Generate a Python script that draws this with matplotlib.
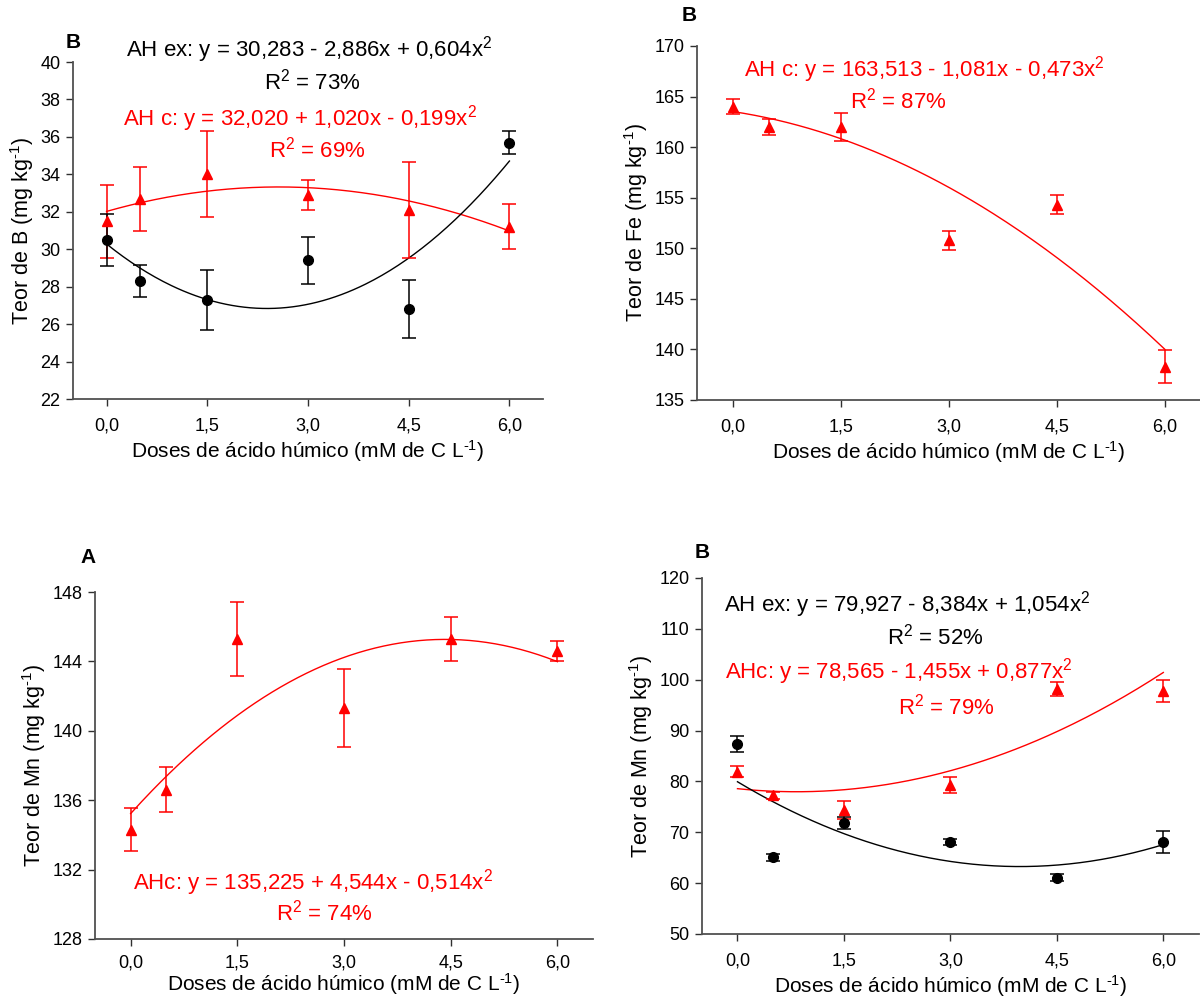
import numpy as np
import matplotlib
matplotlib.use('Agg')
import matplotlib.pyplot as plt

plt.rcParams['font.family'] = ['Liberation Sans', 'DejaVu Sans']
plt.rcParams['mathtext.fontset'] = 'custom'
plt.rcParams['mathtext.rm'] = 'Liberation Sans'
plt.rcParams['mathtext.it'] = 'Liberation Sans'
plt.rcParams['mathtext.default'] = 'regular'

# doses of humic acid (mM de C L-1)
doses = [0.0, 0.5, 1.5, 3.0, 4.5, 6.0]
xticks = [0.0, 1.5, 3.0, 4.5, 6.0]
xticklabels = ['0,0', '1,5', '3,0', '4,5', '6,0']

# Boro (B)
b_ex = [30.5, 28.3, 27.3, 29.4, 26.8, 35.7]
b_ex_err = [1.4, 0.85, 1.6, 1.25, 1.55, 0.6]
b_c = [31.5, 32.7, 34.0, 32.9, 32.1, 31.2]
b_c_err = [1.95, 1.7, 2.3, 0.8, 2.55, 1.2]
b_ex_coef = [30.283, -2.886, 0.604]
b_c_coef = [32.020, 1.020, -0.199]

# Ferro (Fe)
fe_c = [164.0, 162.0, 162.0, 150.8, 154.3, 138.3]
fe_c_err = [0.75, 0.8, 1.4, 0.95, 0.95, 1.65]
fe_c_coef = [163.513, -1.081, -0.473]

# Manganes (Mn) - A
mn_a_c = [134.3, 136.6, 145.3, 141.3, 145.3, 144.6]
mn_a_c_err = [1.25, 1.3, 2.15, 2.25, 1.25, 0.55]
mn_a_c_coef = [135.225, 4.544, -0.514]

# Manganes (Mn) - B
mn_b_ex = [87.3, 65.1, 71.8, 68.1, 61.1, 68.1]
mn_b_ex_err = [1.6, 0.7, 1.1, 0.6, 0.6, 2.1]
mn_b_c = [81.9, 77.3, 74.4, 79.3, 98.1, 97.8]
mn_b_c_err = [1.1, 0.7, 1.7, 1.5, 1.35, 2.15]
mn_b_ex_coef = [79.927, -8.384, 1.054]
mn_b_c_coef = [78.565, -1.455, 0.877]

XLABEL = 'Doses de ácido húmico (mM de C L$^{\u2010 1}$)'
RED = '#ff0000'


def fit_curve(coef):
    xs = np.linspace(0, 6, 200)
    return xs, coef[0] + coef[1] * xs + coef[2] * xs ** 2


def setup_axis(ax, ylim, yticks, ylabel, xlabelpad=3):
    ax.set_xlim(-0.5, 6.5)
    ax.set_ylim(*ylim)
    ax.set_xticks(xticks)
    ax.set_xticklabels(xticklabels)
    ax.set_yticks(yticks)
    for side in ['top', 'right']:
        ax.spines[side].set_visible(False)
    for side in ['left', 'bottom']:
        ax.spines[side].set_color('#505050')
        ax.spines[side].set_linewidth(1.3)
    ax.tick_params(direction='out', length=5, width=1, color='#303030',
                   labelsize=13, pad=4)
    ax.tick_params(axis='x', pad=8)
    ax.set_xlabel(XLABEL, fontsize=15, labelpad=xlabelpad)
    ax.set_ylabel(ylabel, fontsize=15.5, labelpad=3)


def draw_series(ax, y, err, coef, color, marker):
    xs, ys = fit_curve(coef)
    ax.plot(xs, ys, color=color, lw=1.0, zorder=2)
    ax.errorbar(doses, y, yerr=err, fmt=marker, color=color, ecolor=color,
                elinewidth=1.1, capsize=5, capthick=1.1, markersize=7,
                zorder=3, clip_on=False)


fig = plt.figure(figsize=(12, 9.99), dpi=100)

# top left: B
ax1 = fig.add_axes([0.0608, 0.6006, 0.3917, 0.3373])
setup_axis(ax1, (22, 40), range(22, 41, 2), 'Teor de B (mg kg$^{\u2010 1}$)')
draw_series(ax1, b_c, b_c_err, b_c_coef, RED, '^')
draw_series(ax1, b_ex, b_ex_err, b_ex_coef, 'black', 'o')
ax1.text(0.502, 1.036, 'AH ex: y = 30,283 - 2,886x + 0,604x$^2$', transform=ax1.transAxes,
         ha='center', va='center', fontsize=16)
ax1.text(0.51, 0.941, 'R$^2$ = 73%', transform=ax1.transAxes, ha='center', va='center', fontsize=16)
ax1.text(0.483, 0.831, 'AH c: y = 32,020 + 1,020x - 0,199x$^2$', transform=ax1.transAxes,
         ha='center', va='center', fontsize=16, color=RED)
ax1.text(0.52, 0.739, 'R$^2$ = 69%', transform=ax1.transAxes, ha='center', va='center',
         fontsize=16, color=RED)
ax1.text(-0.015, 1.059, 'B', transform=ax1.transAxes, ha='left', va='center',
         fontsize=15, fontweight='bold')

# top right: Fe
ax2 = fig.add_axes([0.5808, 0.5996, 0.42, 0.3544])
setup_axis(ax2, (135, 170), range(135, 171, 5), 'Teor de Fe (mg kg$^{\u2010 1}$)')
draw_series(ax2, fe_c, fe_c_err, fe_c_coef, RED, '^')
ax2.text(0.452, 0.932, 'AH c: y = 163,513 - 1,081x - 0,473x$^2$', transform=ax2.transAxes,
         ha='center', va='center', fontsize=16, color=RED)
ax2.text(0.40, 0.847, 'R$^2$ = 87%', transform=ax2.transAxes, ha='center', va='center',
         fontsize=16, color=RED)
ax2.text(-0.03, 1.085, 'B', transform=ax2.transAxes, ha='left', va='center',
         fontsize=15, fontweight='bold')

# bottom left: Mn (A)
ax3 = fig.add_axes([0.0792, 0.0601, 0.415, 0.3473])
setup_axis(ax3, (128, 148), range(128, 149, 4), 'Teor de Mn (mg kg$^{\u2010 1}$)', xlabelpad=0)
ax3.tick_params(axis='x', pad=6)
draw_series(ax3, mn_a_c, mn_a_c_err, mn_a_c_coef, RED, '^')
ax3.text(0.438, 0.164, 'AHc: y = 135,225 + 4,544x - 0,514x$^2$', transform=ax3.transAxes,
         ha='center', va='center', fontsize=16, color=RED)
ax3.text(0.46, 0.075, 'R$^2$ = 74%', transform=ax3.transAxes, ha='center', va='center',
         fontsize=16, color=RED)
ax3.text(-0.03, 1.10, 'A', transform=ax3.transAxes, ha='left', va='center',
         fontsize=15, fontweight='bold')

# bottom right: Mn (B)
ax4 = fig.add_axes([0.585, 0.0651, 0.414, 0.3564])
setup_axis(ax4, (50, 120), range(50, 121, 10), 'Teor de Mn (mg kg$^{\u2010 1}$)')
draw_series(ax4, mn_b_c, mn_b_c_err, mn_b_c_coef, RED, '^')
draw_series(ax4, mn_b_ex, mn_b_ex_err, mn_b_ex_coef, 'black', 'o')
ax4.text(0.413, 0.924, 'AH ex: y = 79,927 - 8,384x + 1,054x$^2$', transform=ax4.transAxes,
         ha='center', va='center', fontsize=16)
ax4.text(0.47, 0.834, 'R$^2$ = 52%', transform=ax4.transAxes, ha='center', va='center', fontsize=16)
ax4.text(0.397, 0.736, 'AHc: y = 78,565 - 1,455x + 0,877x$^2$', transform=ax4.transAxes,
         ha='center', va='center', fontsize=16, color=RED)
ax4.text(0.492, 0.640, 'R$^2$ = 79%', transform=ax4.transAxes, ha='center', va='center',
         fontsize=16, color=RED)
ax4.text(-0.015, 1.07, 'B', transform=ax4.transAxes, ha='left', va='center',
         fontsize=15, fontweight='bold')

fig.savefig('out.png', dpi=100)
